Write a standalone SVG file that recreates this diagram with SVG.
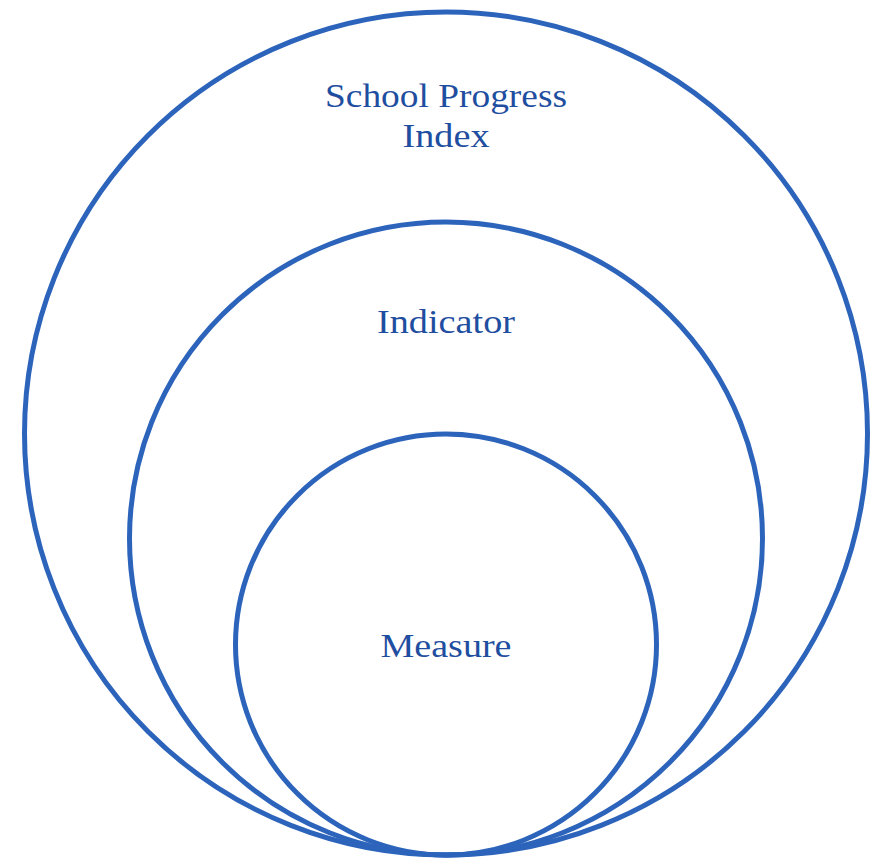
<svg xmlns="http://www.w3.org/2000/svg" width="878" height="860" viewBox="0 0 878 860">
<style>
.c{fill:none;stroke:#2d64bb;stroke-width:5}
.t{font-family:"Liberation Serif","Times New Roman",serif;font-size:33px;fill:#1f4ea0;text-anchor:middle}
</style>
<rect width="878" height="860" fill="#fff"/>
<g id="outer"><circle class="c" cx="446" cy="433.5" r="421.5"/>
<text class="t" x="446" y="107" textLength="242" lengthAdjust="spacingAndGlyphs">School Progress</text>
<text class="t" x="446" y="147" textLength="87" lengthAdjust="spacingAndGlyphs">Index</text></g>
<g id="middle"><circle class="c" cx="446" cy="538.5" r="316.5"/>
<text class="t" x="446" y="333" textLength="138" lengthAdjust="spacingAndGlyphs">Indicator</text></g>
<g id="inner"><circle class="c" cx="446" cy="644.5" r="210.5"/>
<text class="t" x="446" y="657" textLength="131" lengthAdjust="spacingAndGlyphs">Measure</text></g>
<g id="connectors"/>
</svg>
